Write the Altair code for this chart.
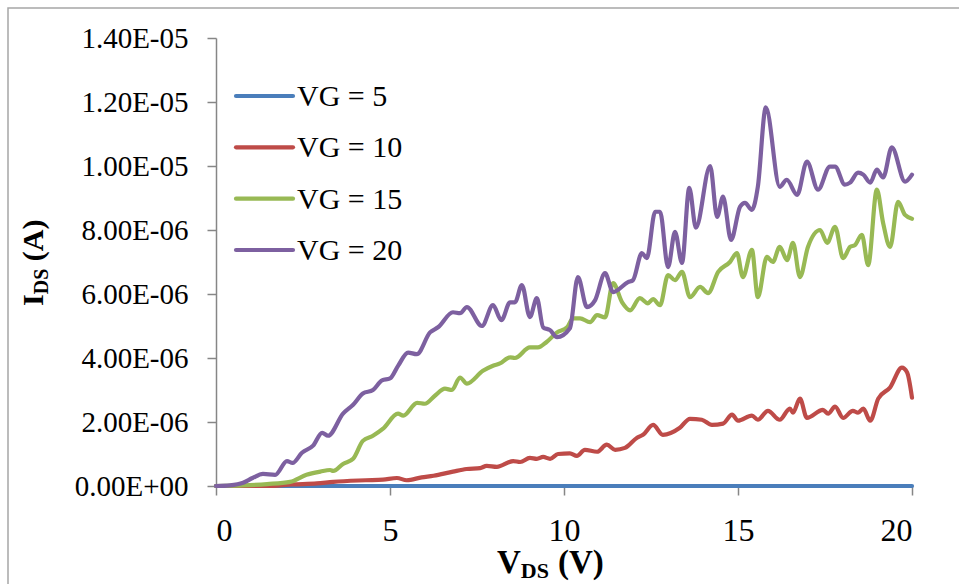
import altair as alt
import pandas as pd

series = ["VG = 5", "VG = 10", "VG = 15", "VG = 20"]
colors = ["#4A7EBB", "#BE4B48", "#98B954", "#7D60A0"]

# VDS (V) and IDS (in units of 1e-6 A)
vds_5 = [0, 2, 4, 6, 8, 10, 12, 14, 16, 18, 20]
ids_5 = [0, 0, 0, 0, 0, 0, 0, 0, 0, 0, 0]

vds_10 = [0, 1.47, 2.2, 2.9, 3.37, 4.3, 4.8, 5.2, 5.48, 5.91, 6.25, 6.81, 7.2, 7.59, 7.78,
          8.07, 8.54, 8.74, 9.02, 9.22, 9.4, 9.6, 9.83, 10.17, 10.37, 10.6, 10.95, 11.23,
          11.47, 11.75, 12.1, 12.27, 12.56, 12.84, 13.33, 13.62, 13.96, 14.25, 14.57, 14.83,
          15.0, 15.4, 15.57, 15.86, 16.2, 16.49, 16.58, 16.78, 16.98, 17.44, 17.59, 17.79,
          18.02, 18.3, 18.45, 18.6, 18.8, 19.03, 19.37, 19.71, 19.86, 20.0]
ids_10 = [0, 0.0, 0.05, 0.08, 0.13, 0.18, 0.2, 0.25, 0.18, 0.27, 0.32, 0.45, 0.53, 0.56, 0.63,
          0.6, 0.78, 0.75, 0.88, 0.85, 0.91, 0.85, 1.0, 1.02, 0.94, 1.13, 1.07, 1.29,
          1.13, 1.19, 1.51, 1.6, 1.91, 1.6, 1.82, 2.1, 2.07, 1.91, 1.95, 2.23,
          2.04, 2.2, 2.07, 2.35, 2.07, 2.42, 2.29, 2.73, 2.13, 2.38, 2.26, 2.48,
          2.13, 2.35, 2.29, 2.42, 2.04, 2.73, 3.08, 3.7, 3.55, 2.76]

vds_15 = [0, 0.78, 1.47, 2.13, 2.6, 3.0, 3.28, 3.37, 3.65, 3.94, 4.22, 4.51, 4.8, 5.23, 5.38,
          5.78, 6.0, 6.29, 6.58, 6.78, 7.01, 7.21, 7.67, 7.96, 8.16, 8.45, 8.59, 9.02, 9.25,
          9.5, 9.8, 10.09, 10.26, 10.46, 10.75, 10.95, 11.18, 11.41, 11.67, 11.9, 12.18,
          12.41, 12.56, 12.76, 12.99, 13.19, 13.39, 13.62, 13.91, 14.14, 14.43, 14.77, 14.97,
          15.14, 15.4, 15.57, 15.83, 16.0, 16.2, 16.41, 16.58, 16.78, 17.01, 17.36, 17.56,
          17.79, 18.02, 18.22, 18.36, 18.56, 18.74, 18.99, 19.17, 19.37, 19.6, 19.8, 20.0]
ids_15 = [0, 0.02, 0.06, 0.13, 0.35, 0.45, 0.5, 0.47, 0.69, 0.85, 1.41, 1.57, 1.79, 2.26, 2.2,
          2.6, 2.57, 2.82, 3.04, 3.0, 3.39, 3.2, 3.6, 3.76, 3.83, 4.02, 4.0, 4.33, 4.33,
          4.5, 4.8, 4.96, 5.24, 5.24, 5.12, 5.34, 5.27, 6.34, 5.74, 5.49, 5.87,
          5.71, 5.84, 5.65, 6.59, 6.43, 6.69, 5.9, 6.22, 6.03, 6.69, 7.0, 7.28,
          6.53, 7.38, 5.9, 7.16, 7.0, 7.47, 7.06, 7.6, 6.53, 7.47, 8.0, 7.6,
          8.1, 7.12, 7.47, 7.53, 7.85, 6.9, 9.26, 8.22, 7.47, 8.88, 8.47, 8.35]

vds_20 = [0, 0.4, 0.78, 1.05, 1.35, 1.7, 2.04, 2.2, 2.47, 2.79, 3.05, 3.22, 3.65, 3.94, 4.22,
          4.51, 4.77, 5.0, 5.24, 5.52, 5.77, 6.15, 6.38, 6.81, 7.01, 7.21, 7.64, 7.96, 8.2,
          8.45, 8.59, 8.79, 9.02, 9.22, 9.4, 9.6, 9.8, 10.17, 10.4, 10.66, 10.89, 11.18,
          11.41, 11.84, 11.98, 12.24, 12.38, 12.62, 12.76, 12.99, 13.19, 13.39, 13.6, 13.79,
          14.2, 14.4, 14.57, 14.8, 15.06, 15.2, 15.4, 15.57, 15.8, 16.2, 16.4, 16.7, 16.98,
          17.3, 17.64, 17.79, 18.07, 18.22, 18.45, 18.6, 18.8, 18.99, 19.17, 19.42, 19.8, 20.0]
ids_20 = [0, 0.02, 0.1, 0.25, 0.38, 0.35, 0.78, 0.72, 1.04, 1.26, 1.66, 1.57, 2.26, 2.54, 2.89,
          3.0, 3.3, 3.36, 3.77, 4.17, 4.12, 4.8, 4.96, 5.43, 5.4, 5.59, 5.0, 5.65, 5.18,
          5.74, 5.74, 6.28, 5.28, 5.87, 4.96, 4.87, 4.65, 4.93, 6.53, 5.59, 5.8, 6.65,
          6.06, 6.37, 6.43, 7.28, 7.12, 8.57, 8.57, 6.84, 7.94, 6.97, 9.32, 8.07,
          10.0, 8.41, 9.04, 7.69, 8.73, 8.85, 8.63, 9.35, 11.83, 9.35, 9.57, 9.1, 10.14,
          9.26, 9.98, 9.98, 9.42, 9.48, 9.79, 9.73, 9.48, 9.89, 9.64, 10.58, 9.51, 9.73]

x_ticks = [0, 5, 10, 15, 20]
y_ticks = [0, 2e-6, 4e-6, 6e-6, 8e-6, 1e-5, 1.2e-5, 1.4e-5]
y_tick_labels = ["0.00E+00", "2.00E-06", "4.00E-06", "6.00E-06", "8.00E-06",
                 "1.00E-05", "1.20E-05", "1.40E-05"]

rows = []
for name, xs, ys in zip(series, [vds_5, vds_10, vds_15, vds_20], [ids_5, ids_10, ids_15, ids_20]):
    for xv, yv in zip(xs, ys):
        rows.append({"series": name, "vds": xv, "ids": yv * 1e-6})
df = pd.DataFrame(rows)
legend_df = pd.DataFrame({"series": series})

FONT = "Liberation Serif, Times New Roman, serif"
W, H = 696, 448
PAD_L, PAD_T = 216, 38

label_expr = "[" + ",".join("'%s'" % s for s in y_tick_labels) + "][round(datum.value / 2e-6)]"
color_scale = alt.Scale(domain=series, range=colors)

lines = alt.Chart(df).mark_line(strokeWidth=4.2, interpolate="monotone", strokeCap="round",
                                 strokeJoin="round").encode(
    x=alt.X("vds:Q", scale=alt.Scale(domain=[0, 20], nice=False),
            axis=alt.Axis(values=x_ticks, title=None, labelFontSize=32, labelPadding=20,
                          labelFont=FONT, labelColor="black", grid=False, format="d")),
    y=alt.Y("ids:Q", scale=alt.Scale(domain=[0, 1.4e-5], nice=False),
            axis=alt.Axis(values=y_ticks, title=None, labelExpr=label_expr, labelFontSize=29,
                          labelPadding=19, labelFont=FONT, labelColor="black", grid=False)),
    color=alt.Color("series:N", scale=color_scale, legend=None),
    order=alt.Order("vds:Q"),
)

# legend drawn from the series list
legend_y = alt.Y("series:N",
                 scale=alt.Scale(type="point", domain=series, range=[58, 212], padding=0),
                 axis=None)
leg_lines = alt.Chart(legend_df).mark_rule(strokeWidth=4.2, strokeCap="round").encode(
    x=alt.value(20), x2=alt.value(77), y=legend_y,
    color=alt.Color("series:N", scale=color_scale, legend=None),
)
leg_text = alt.Chart(legend_df).mark_text(
    font=FONT, fontSize=30, align="left", baseline="middle", color="black", dy=1
).encode(x=alt.value(81), y=legend_y, text="series:N")
legend = alt.layer(leg_lines, leg_text)


def txt(s, x, y, size, angle=0):
    return alt.Chart(pd.DataFrame({"t": [s]})).mark_text(
        font=FONT, fontWeight="bold", fontSize=size, align="left", baseline="alphabetic",
        angle=angle, color="black"
    ).encode(text="t:N", x=alt.value(x), y=alt.value(y))


# x-axis title  V_DS (V)
xt_base = 573 - PAD_T
xt_start = 497 - PAD_L
x_title = [
    txt("V", xt_start, xt_base, 33),
    txt("DS", xt_start + 23.8, xt_base + 5, 22),
    txt("(V)", xt_start + 23.8 + 28.1 + 9, xt_base, 33),
]
# y-axis title  I_DS (A) rotated
yt_base = 43 - PAD_L
yt_start = 306 - PAD_T
y_title = [
    txt("I", yt_base, yt_start, 30, 270),
    txt("DS", yt_base + 5, yt_start - 11.7, 20, 270),
    txt("(A)", yt_base, yt_start - 11.7 - 25.6 - 7.5, 30, 270),
]

frame = alt.Chart(pd.DataFrame({"k": [0]})).mark_rect(
    fillOpacity=0, stroke="#a6a6a6", strokeWidth=1.5
).encode(x=alt.value(8 - PAD_L), y=alt.value(8 - PAD_T),
         x2=alt.value(970 - PAD_L), y2=alt.value(600 - PAD_T))

main = alt.layer(frame, lines, *x_title, *y_title)

chart = alt.layer(main, legend).resolve_scale(y="independent").properties(
    width=W, height=H,
    autosize=alt.AutoSizeParams(type="none"),
    padding={"left": PAD_L, "top": PAD_T, "right": 959 - PAD_L - W, "bottom": 584 - PAD_T - H},
    background="white",
).configure(font=FONT).configure_view(stroke=None).configure_axis(
    domainColor="#868686", domainWidth=1.5, tickColor="#868686", tickWidth=1.5, tickSize=9,
    labelFont=FONT
)

chart.save("out.html", embed_options={"renderer": "svg", "actions": False})
